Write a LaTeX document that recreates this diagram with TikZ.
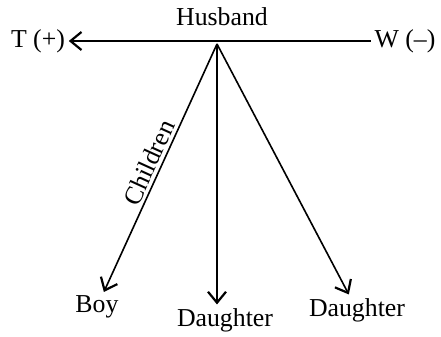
\documentclass[tikz,border=0pt]{standalone}
\usepackage{fontspec}
\setmainfont{Liberation Serif}
\usepackage{tikz}
\usetikzlibrary{arrows.meta,positioning}

\begin{document}
\begin{tikzpicture}[x=0.5pt, y=-0.5pt, line width=0.8pt,
    every node/.style={font=\fontsize{12.9}{15}\selectfont, inner sep=1.5pt},
    kin/.style={-{Straight Barb[length=5.5pt,width=9pt,line width=1.1pt]}}]
  \useasboundingbox (0,0) rectangle (441,337);
  % top row
  \node (husband) at (222,17) {Husband};
  \node (t) at (38,41) {T (+)};
  \node (w) at (405,41) {W (--)};
  \coordinate (apex) at (217,44);
  \draw[kin] (w) -- (t);
  % children
  \node (boy) at (97,307) {Boy};
  \node (dau1) at (225,320) {Daughter};
  \node (dau2) at (357,310) {Daughter};
  \draw[kin] (apex) -- node[pos=0.5, sloped, above, inner sep=1.5pt] (lbl) {Children} (boy);
  \draw[kin] (apex) -- (apex |- dau1.north);
  \draw[kin] (apex) -- (dau2);
\end{tikzpicture}
\end{document}
